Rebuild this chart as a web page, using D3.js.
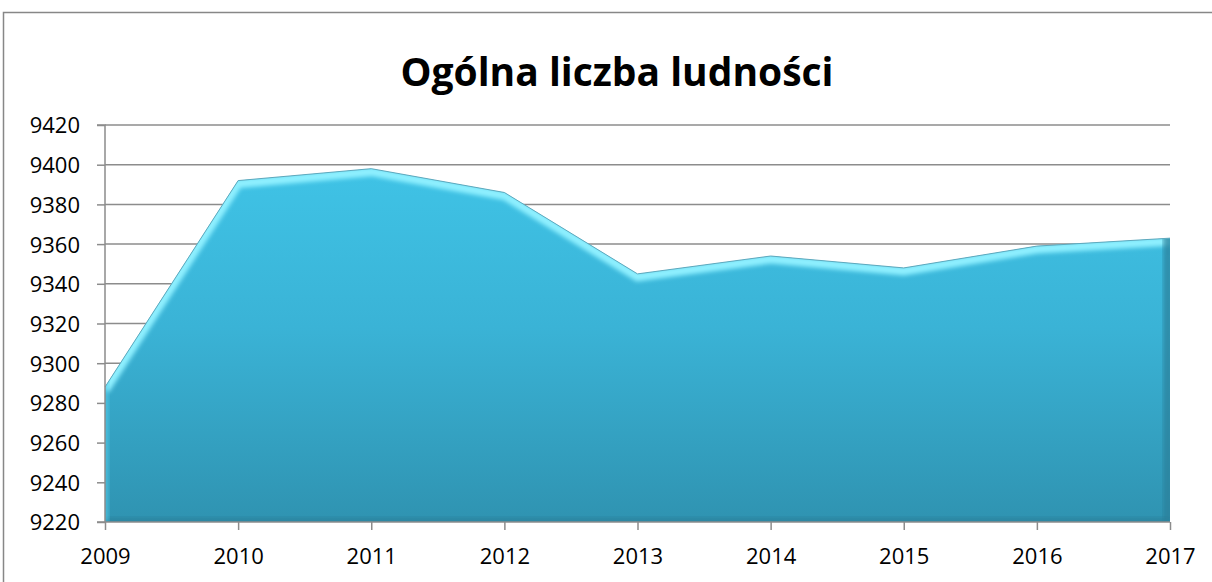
<!DOCTYPE html>
<html lang="pl">
<head>
  <meta charset="UTF-8">
  <title>Ogólna liczba ludności</title>
  <script src="https://d3js.org/d3.v7.min.js"></script>
  <style>
    body { margin: 0; background: #fff; }
    svg { display: block; }
    .tick text { font-family: "Open Sans", sans-serif; font-size: 22px; fill: #000; }
    .title { font-family: "Open Sans", sans-serif; font-weight: bold; font-size: 39px; fill: #000; }
  </style>
</head>
<body>
  <script>
    const years = [2009, 2010, 2011, 2012, 2013, 2014, 2015, 2016, 2017];
    const population = [9288, 9392, 9398, 9386, 9345, 9354, 9348, 9359, 9363];
    const yTicks = [9220, 9240, 9260, 9280, 9300, 9320, 9340, 9360, 9380, 9400, 9420];

    const W = 1212, H = 582;
    const plotLeft = 105, plotRight = 1170, plotTop = 125, plotBottom = 522;

    const svg = d3.select("body").append("svg").attr("width", W).attr("height", H);

    // chart frame
    svg.append("rect")
      .attr("x", 3.5).attr("y", 12.5)
      .attr("width", W + 10).attr("height", H + 10)
      .attr("fill", "#fff").attr("stroke", "#878787").attr("stroke-width", 1.5);

    svg.append("text")
      .attr("class", "title")
      .attr("x", 617).attr("y", 86)
      .attr("text-anchor", "middle")
      .text("Ogólna liczba ludności");

    const x = d3.scalePoint().domain(years).range([plotLeft, plotRight]);
    const y = d3.scaleLinear().domain([9220, 9420]).range([plotBottom, plotTop]);

    // gridlines
    svg.append("g")
      .selectAll("line")
      .data(yTicks.slice(1))
      .join("line")
      .attr("x1", plotLeft).attr("x2", plotRight)
      .attr("y1", d => y(d)).attr("y2", d => y(d))
      .attr("stroke", "#8c8c8c").attr("stroke-width", 1.5);

    const defs = svg.append("defs");
    const grad = defs.append("linearGradient")
      .attr("id", "fillGrad").attr("x1", 0).attr("y1", 0).attr("x2", 0).attr("y2", 1);
    grad.append("stop").attr("offset", "0%").attr("stop-color", "#3fc3e6");
    grad.append("stop").attr("offset", "45%").attr("stop-color", "#3ab3d6");
    grad.append("stop").attr("offset", "100%").attr("stop-color", "#2f93b1");

    const blur = defs.append("filter").attr("id", "soft").attr("x", "-5%").attr("y", "-5%").attr("width", "110%").attr("height", "110%");
    blur.append("feGaussianBlur").attr("stdDeviation", 2);

    const area = d3.area()
      .x((d, i) => x(years[i]))
      .y0(plotBottom)
      .y1(d => y(d));
    const line = d3.line()
      .x((d, i) => x(years[i]))
      .y(d => y(d));

    defs.append("clipPath").attr("id", "areaClip")
      .append("path").attr("d", area(population));

    // main area
    svg.append("path")
      .attr("d", area(population))
      .attr("fill", "url(#fillGrad)");

    const bevel = svg.append("g").attr("clip-path", "url(#areaClip)");
    // light top bevel
    bevel.append("path")
      .attr("d", line(population))
      .attr("transform", "translate(0,3)")
      .attr("fill", "none")
      .attr("stroke", "#8ff0ff")
      .attr("stroke-width", 9)
      .attr("filter", "url(#soft)");
    // darker right and bottom edges, lighter left edge
    bevel.append("rect")
      .attr("x", plotRight - 7).attr("y", plotTop).attr("width", 10).attr("height", plotBottom - plotTop)
      .attr("fill", "#2a7f99").attr("opacity", 0.7).attr("filter", "url(#soft)");
    bevel.append("rect")
      .attr("x", plotLeft).attr("y", plotBottom - 5).attr("width", plotRight - plotLeft).attr("height", 8)
      .attr("fill", "#2a7f99").attr("opacity", 0.6).attr("filter", "url(#soft)");
    bevel.append("rect")
      .attr("x", plotLeft - 3).attr("y", plotTop).attr("width", 7).attr("height", plotBottom - plotTop)
      .attr("fill", "#56cdea").attr("opacity", 0.6).attr("filter", "url(#soft)");

    // thin outline on top edge
    svg.append("path")
      .attr("d", line(population))
      .attr("fill", "none")
      .attr("stroke", "#5fa9bd")
      .attr("stroke-width", 1);

    // y axis
    const yAxis = svg.append("g")
      .attr("transform", `translate(${plotLeft},0)`)
      .call(d3.axisLeft(y).tickValues(yTicks).tickSize(8).tickPadding(17).tickFormat(d3.format("d")));
    yAxis.select(".domain").attr("stroke", "#8c8c8c").attr("stroke-width", 1.5).attr("d", `M-8,${plotTop}H0V${plotBottom}H-8`);
    yAxis.selectAll(".tick line").attr("stroke", "#8c8c8c").attr("stroke-width", 1.5);
    yAxis.selectAll(".tick text").attr("dy", "0.36em");

    // x axis
    const xAxis = svg.append("g")
      .attr("transform", `translate(0,${plotBottom})`)
      .call(d3.axisBottom(x).tickSize(8).tickPadding(18).tickFormat(d3.format("d")));
    xAxis.select(".domain").attr("stroke", "#8c8c8c").attr("stroke-width", 1.5).attr("d", `M${plotLeft},0H${plotRight}`);
    xAxis.selectAll(".tick line").attr("stroke", "#8c8c8c").attr("stroke-width", 1.5);
  </script>
</body>
</html>
